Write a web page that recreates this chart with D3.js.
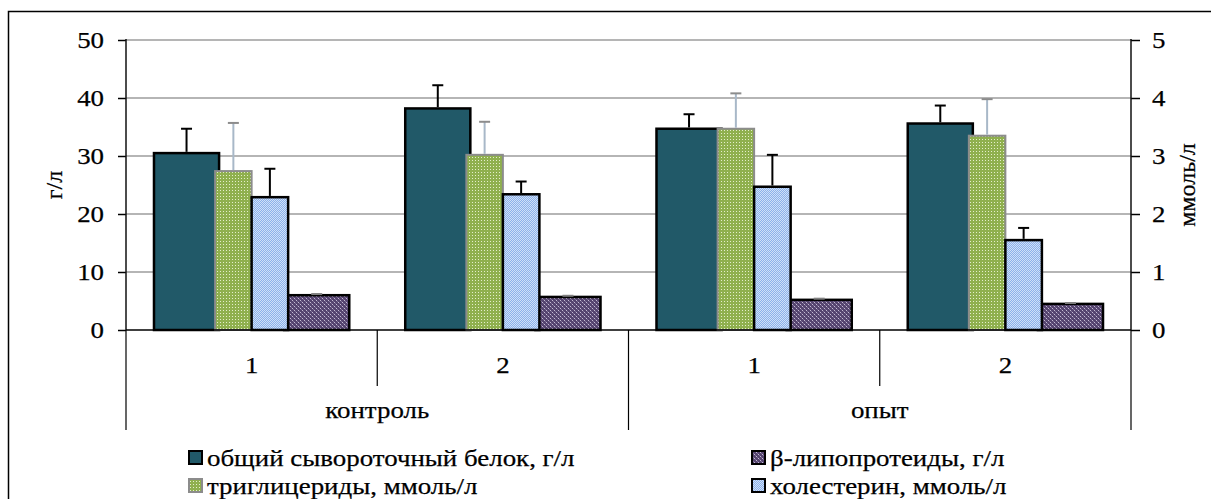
<!DOCTYPE html>
<html>
<head>
<meta charset="utf-8">
<script src="https://cdn.jsdelivr.net/npm/d3@7"></script>
<style>
  html, body { margin: 0; padding: 0; background: #fff; }
  svg { display: block; }
  svg text { font-family: "Liberation Serif", "Times New Roman", Times, "DejaVu Serif", serif; fill: #000; stroke: #000; stroke-width: 0.25px; }
</style>
</head>
<body>
<svg id="chart" width="1211" height="499"></svg>
<script>
// Groups and sub-categories on the horizontal axis
const groups = ["контроль", "опыт"];
const subLabels = ["1", "2", "1", "2"];
const groupOf = [0, 0, 1, 1];

// Left axis series (г/л)
const protein = [30.5, 38.2, 34.7, 35.6];
const proteinErr = [4.2, 4.0, 2.5, 3.1];
const lipo = [6.0, 5.7, 5.2, 4.5];
const lipoErr = [0.2, 0.2, 0.2, 0.15];

// Right axis series (ммоль/л)
const trig = [2.74, 3.02, 3.47, 3.35];
const trigErr = [0.83, 0.57, 0.61, 0.63];
const chol = [2.29, 2.34, 2.47, 1.55];
const cholErr = [0.49, 0.22, 0.55, 0.21];

const leftTicks = [0, 10, 20, 30, 40, 50];
const rightTicks = [0, 1, 2, 3, 4, 5];

const seriesNames = {
  protein: "общий сывороточный белок, г/л",
  lipo: "β-липопротеиды, г/л",
  trig: "триглицериды, ммоль/л",
  chol: "холестерин, ммоль/л"
};

const FONT = '"Liberation Serif", "Times New Roman", Times, "DejaVu Serif", serif';
const fontSize = 24;
const stretch = 1.12;

const svg = d3.select("#chart");
const plot = { left: 126, right: 1131, top: 40, bottom: 330 };

// Slightly widened serif lettering
function widen(sel) {
  sel.each(function () {
    const w = this.getComputedTextLength();
    if (w > 0) {
      d3.select(this).attr("textLength", w * stretch).attr("lengthAdjust", "spacingAndGlyphs");
    }
  });
}

// Fill patterns
const defs = svg.append("defs");
const pGreen = defs.append("pattern").attr("id", "pGreen").attr("patternUnits", "userSpaceOnUse")
  .attr("width", 3).attr("height", 3);
pGreen.append("rect").attr("width", 3).attr("height", 3).attr("fill", "#8fb04e");
pGreen.append("rect").attr("x", 1).attr("y", 1).attr("width", 1).attr("height", 1).attr("fill", "#e4eecb");

const pBlue = defs.append("pattern").attr("id", "pBlue").attr("patternUnits", "userSpaceOnUse")
  .attr("width", 2).attr("height", 2);
pBlue.append("rect").attr("width", 2).attr("height", 2).attr("fill", "#8cb1ea");
pBlue.append("rect").attr("width", 1).attr("height", 1).attr("fill", "#cfe0f8");
pBlue.append("rect").attr("x", 1).attr("y", 1).attr("width", 1).attr("height", 1).attr("fill", "#cfe0f8");

const pPurple = defs.append("pattern").attr("id", "pPurple").attr("patternUnits", "userSpaceOnUse")
  .attr("width", 4).attr("height", 4);
pPurple.append("rect").attr("width", 4).attr("height", 4).attr("fill", "#55446f");
pPurple.append("rect").attr("x", 0).attr("y", 0).attr("width", 1).attr("height", 1).attr("fill", "#c4bbd3");
pPurple.append("rect").attr("x", 2).attr("y", 2).attr("width", 1).attr("height", 1).attr("fill", "#c4bbd3");
pPurple.append("rect").attr("x", 1).attr("y", 1).attr("width", 1).attr("height", 1).attr("fill", "#7d6e96");
pPurple.append("rect").attr("x", 3).attr("y", 3).attr("width", 1).attr("height", 1).attr("fill", "#7d6e96");

// Outer frame
svg.append("rect").attr("x", 8.5).attr("y", 11.5).attr("width", 1215).attr("height", 500)
  .attr("fill", "none").attr("stroke", "#000").attr("stroke-width", 1.5);

// Scales
const x0 = d3.scaleBand().domain(d3.range(4)).range([plot.left, plot.right]).padding(0);
const xPrim = d3.scaleBand().domain(["protein", "gap", "lipo"]).range([0, x0.bandwidth()])
  .paddingInner(0).paddingOuter(0.43);
const xSec = d3.scaleBand().domain(["trig", "chol"]).range([0, x0.bandwidth()])
  .paddingInner(0).paddingOuter(2.44);
const yL = d3.scaleLinear().domain([0, 50]).range([plot.bottom, plot.top]);
const yR = d3.scaleLinear().domain([0, 5]).range([plot.bottom, plot.top]);

// Gridlines
svg.append("g").selectAll("line").data(leftTicks.filter(d => d > 0)).join("line")
  .attr("x1", plot.left).attr("x2", plot.right)
  .attr("y1", d => yL(d)).attr("y2", d => yL(d))
  .attr("stroke", "#9c9c9c").attr("stroke-width", 1.5);

// Bars with upper error whiskers
function drawSeries(key, values, errs, xs, ys, style) {
  const g = svg.append("g");
  const bw = xs.bandwidth();
  g.selectAll("rect").data(values).join("rect")
    .attr("x", (d, i) => x0(i) + xs(key))
    .attr("y", d => ys(d))
    .attr("width", bw)
    .attr("height", d => ys(0) - ys(d))
    .attr("fill", style.fill)
    .attr("stroke", style.stroke)
    .attr("stroke-width", style.sw);
  const eg = svg.append("g");
  values.forEach((v, i) => {
    const cx = x0(i) + xs(key) + bw / 2;
    eg.append("line").attr("x1", cx).attr("x2", cx)
      .attr("y1", ys(v) - style.sw / 2).attr("y2", ys(v + errs[i]))
      .attr("stroke", style.err).attr("stroke-width", 2);
    eg.append("line").attr("x1", cx - 5.5).attr("x2", cx + 5.5)
      .attr("y1", ys(v + errs[i])).attr("y2", ys(v + errs[i]))
      .attr("stroke", style.cap || style.err).attr("stroke-width", 2);
  });
}

drawSeries("protein", protein, proteinErr, xPrim, yL,
  { fill: "#215968", stroke: "#000", sw: 2.5, err: "#000" });
drawSeries("lipo", lipo, lipoErr, xPrim, yL,
  { fill: "url(#pPurple)", stroke: "#000", sw: 2.5, err: "#808080" });
drawSeries("trig", trig, trigErr, xSec, yR,
  { fill: "url(#pGreen)", stroke: "#8c8c8c", sw: 2, err: "#a8b8c8", cap: "#8c8c8c" });
drawSeries("chol", chol, cholErr, xSec, yR,
  { fill: "url(#pBlue)", stroke: "#000", sw: 2.5, err: "#000" });

// Axes
const axL = svg.append("g").attr("transform", `translate(${plot.left},0)`)
  .call(d3.axisLeft(yL).tickValues(leftTicks).tickFormat(d3.format("d")).tickSize(8).tickPadding(14));
const axR = svg.append("g").attr("transform", `translate(${plot.right},0)`)
  .call(d3.axisRight(yR).tickValues(rightTicks).tickFormat(d3.format("d")).tickSize(9).tickPadding(12));
[axL, axR].forEach(ax => {
  ax.attr("font-family", FONT).attr("font-size", fontSize);
  ax.select(".domain").remove();
  ax.selectAll(".tick line").attr("stroke", "#000").attr("stroke-width", 1.5);
  ax.selectAll(".tick text").attr("fill", "#000");
  ax.append("line").attr("x1", 0).attr("x2", 0).attr("y1", plot.top - 1).attr("y2", plot.bottom)
    .attr("stroke", "#111").attr("stroke-width", 1.5);
});
widen(svg.selectAll(".tick text"));

// Baseline
svg.append("line").attr("x1", plot.left).attr("x2", plot.right)
  .attr("y1", plot.bottom).attr("y2", plot.bottom)
  .attr("stroke", "#000").attr("stroke-width", 1.5);

// Axis titles
svg.append("text").attr("transform", `translate(62,${(plot.top + plot.bottom) / 2}) rotate(-90)`)
  .attr("text-anchor", "middle").attr("font-size", fontSize).text("г/л");
svg.append("text").attr("transform", `translate(1195,${(plot.top + plot.bottom) / 2}) rotate(-90)`)
  .attr("text-anchor", "middle").attr("font-size", fontSize).text("ммоль/л");

// Two-level category axis
const catG = svg.append("g");
const groupEdges = [0, 2, 4];
d3.range(5).forEach(i => {
  const xx = i < 4 ? x0(i) : plot.right;
  const isGroupEdge = groupEdges.includes(i);
  catG.append("line").attr("x1", xx).attr("x2", xx)
    .attr("y1", plot.bottom).attr("y2", isGroupEdge ? 430 : 386)
    .attr("stroke", "#000").attr("stroke-width", 1.2);
});
catG.selectAll("text.sub").data(subLabels).join("text").attr("class", "sub")
  .attr("x", (d, i) => x0(i) + x0.bandwidth() / 2).attr("y", 373)
  .attr("text-anchor", "middle").attr("font-size", fontSize).text(d => d);
catG.selectAll("text.grp").data(groups).join("text").attr("class", "grp")
  .attr("x", (d, gi) => {
    const idx = groupOf.map((g, i) => g === gi ? i : -1).filter(i => i >= 0);
    return (x0(idx[0]) + x0(idx[idx.length - 1]) + x0.bandwidth()) / 2;
  })
  .attr("y", 418).attr("text-anchor", "middle").attr("font-size", fontSize).text(d => d);
widen(catG.selectAll("text"));

// Legend
const legendItems = [
  { key: "protein", x: 189, y: 451, fill: "#215968", stroke: "#000" },
  { key: "trig", x: 189, y: 479, fill: "url(#pGreen)", stroke: "#8c8c8c" },
  { key: "lipo", x: 752, y: 451, fill: "url(#pPurple)", stroke: "#000" },
  { key: "chol", x: 752, y: 479, fill: "url(#pBlue)", stroke: "#000" }
];
const lg = svg.append("g");
legendItems.forEach(it => {
  lg.append("rect").attr("x", it.x).attr("y", it.y).attr("width", 13).attr("height", 13)
    .attr("fill", it.fill).attr("stroke", it.stroke).attr("stroke-width", 2);
  lg.append("text").attr("x", it.x + 18).attr("y", it.y + 15)
    .attr("font-size", fontSize).text(seriesNames[it.key]);
});
widen(lg.selectAll("text"));
</script>
</body>
</html>
